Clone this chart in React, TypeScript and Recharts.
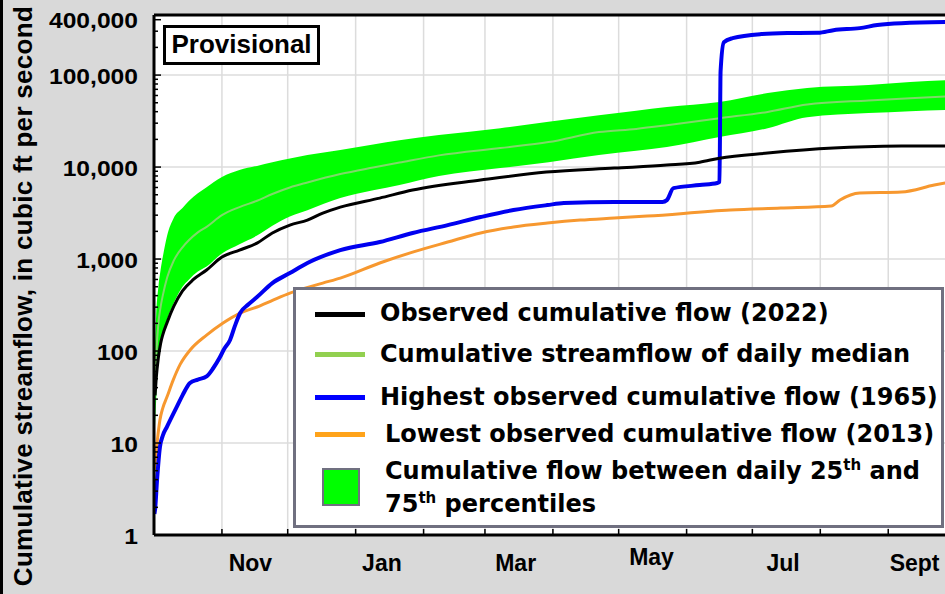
import { ComposedChart, Area, Line, XAxis, YAxis, CartesianGrid, ReferenceLine, Legend } from 'recharts';

// water-year day (0 = Oct 1)
const monthStarts = [31, 61, 92, 123, 151, 182, 212, 243, 273, 304, 335];
const monthLabels = ['Nov', 'Jan', 'Mar', 'May', 'Jul', 'Sept'];
const monthLabelDays = [44, 104, 165, 227, 287, 347];

const yLabelTicks = [1, 10, 100, 1000, 10000, 100000, 400000];
const yMinorTicks = [
  2, 3, 4, 5, 6, 7, 8, 9,
  20, 30, 40, 50, 60, 70, 80, 90,
  200, 300, 400, 500, 600, 700, 800, 900,
  2000, 3000, 4000, 5000, 6000, 7000, 8000, 9000,
  20000, 30000, 40000, 50000, 60000, 70000, 80000, 90000,
  200000, 300000,
];
const gridValues = [10, 100, 1000, 10000, 100000];

// 25th-75th percentile band and median
const bandDays = [0.5, 1, 2, 3, 4, 6, 9, 13, 16, 20, 24, 31, 39, 47, 54, 62, 70, 85, 100, 112, 130, 158, 180, 203, 220, 234, 258, 280, 298, 326, 345, 365];
const band25 = [15, 30, 80, 120, 150, 220, 330, 500, 600, 730, 830, 1150, 1450, 1800, 2300, 2900, 3400, 4600, 5600, 6400, 8000, 9750, 11300, 13500, 15000, 16500, 21200, 26500, 34900, 38600, 40500, 42000];
const band75 = [120, 250, 500, 760, 1050, 1800, 2800, 3600, 4300, 5200, 6050, 7800, 9300, 10300, 11300, 12400, 13500, 15300, 17600, 19600, 22300, 26500, 31000, 36700, 41000, 44900, 50900, 63700, 72300, 77800, 84000, 89000];
const bandMedian = [42, 87, 200, 300, 400, 630, 960, 1340, 1610, 1950, 2240, 3000, 3670, 4300, 5100, 6000, 6800, 8400, 9900, 11200, 13400, 16100, 18700, 24000, 26000, 28500, 34000, 39800, 48000, 53000, 56000, 59000];

// observed 2022
const obsDays = [0.5, 1, 2, 3, 4, 6, 9, 13, 18, 24, 31, 39, 47, 54, 62, 70, 77, 85, 103, 118, 149, 179, 210, 234, 249, 258, 280, 310, 341, 365];
const obsFlow = [33, 50, 85, 120, 150, 205, 305, 450, 600, 760, 1050, 1250, 1490, 1920, 2340, 2650, 3160, 3670, 4600, 5620, 7220, 8830, 9750, 10500, 11300, 12500, 14200, 16100, 16900, 17000];

// highest 1965
const maxDays = [0.2, 0.5, 1.4, 2.7, 4, 5.9, 8, 10.5, 13, 16.4, 20, 24, 27, 30, 32, 34.7, 37, 39.3, 43, 47, 54, 62, 70, 85, 103, 118, 134, 149, 164, 179.5, 187, 210, 232, 234, 237, 249, 257, 258, 258.5, 260, 264, 277, 289, 303, 310, 322, 330, 341, 365];
const maxFlow = [1.7, 1.9, 4, 9, 12, 15, 19, 25, 33, 45, 49, 53, 65, 85, 105, 132, 190, 259, 320, 386, 548, 705, 906, 1250, 1530, 1920, 2340, 2860, 3410, 3860, 4060, 4170, 4170, 4370, 5900, 6370, 6700, 6900, 110000, 228000, 252000, 279000, 286000, 288000, 308000, 324000, 350000, 367000, 378000];

// lowest 2013
const minDays = [0, 0.5, 1.4, 2.7, 4, 5.9, 8.7, 12, 16.4, 24, 31.5, 39.3, 47, 54.3, 62, 77, 85, 103, 118, 134, 149, 164, 179.5, 194.5, 210, 225, 263, 286, 309, 313, 322, 341, 356, 365];
const minFlow = [5, 6, 10, 17.8, 24, 31.6, 48, 72, 102, 149, 202, 259, 301, 358, 427, 548, 621, 906, 1190, 1530, 1920, 2230, 2460, 2650, 2790, 2930, 3410, 3580, 3770, 4380, 5210, 5350, 6370, 7000];

const legendItems = [
  { label: 'Observed cumulative flow (2022)', color: '#000000' },
  { label: 'Cumulative streamflow of daily median', color: '#92d050' },
  { label: 'Highest observed cumulative flow (1965)', color: '#0000ff' },
  { label: 'Lowest observed cumulative flow (2013)', color: '#ffa31a' },
];

const bandData = bandDays.map((day, i) => ({ day, range: [band25[i], band75[i]], median: bandMedian[i] }));
const obsData = obsDays.map((day, i) => ({ day, flow: obsFlow[i] }));
const maxData = maxDays.map((day, i) => ({ day, flow: maxFlow[i] }));
const minData = minDays.map((day, i) => ({ day, flow: minFlow[i] }));

const SANS = '"Liberation Sans", Arial, Helvetica, sans-serif';
const LEG = '"DejaVu Sans", Verdana, sans-serif';

function YTick(props: any) {
  const { x, y, payload } = props;
  const v = payload.value;
  const axisX = x + 16;
  const labelled = yLabelTicks.includes(v);
  return (
    <g>
      <line x1={axisX} x2={axisX + (labelled ? 7 : 4)} y1={y} y2={y} stroke="#000" strokeWidth={1.5} />
      {labelled && (
        <text
          transform={`translate(${x},${y + 1}) scale(1.12,1)`}
          textAnchor="end"
          dominantBaseline="central"
          fontFamily={SANS}
          fontWeight="bold"
          fontSize={22}
          fill="#000"
        >
          {v.toLocaleString('en-US')}
        </text>
      )}
    </g>
  );
}

function XTick(props: any) {
  const { x, y, payload } = props;
  const i = monthLabelDays.indexOf(payload.value);
  if (i >= 0) {
    const lift = monthLabels[i] === 'May' ? 6 : 0;
    return (
      <text x={x} y={y + 28 - lift} textAnchor="middle" dominantBaseline="central" fontFamily={SANS} fontWeight="bold" fontSize={23} fill="#000">
        {monthLabels[i]}
      </text>
    );
  }
  return <line x1={x} x2={x} y1={y} y2={y - 6} stroke="#000" strokeWidth={1.5} />;
}

function LegendBox() {
  const rows = [24, 65, 108, 145];
  return (
    <div style={{ position: 'relative', width: 651, height: 241, boxSizing: 'border-box', border: '3px solid #707080', background: '#fff', fontFamily: LEG, fontWeight: 'bold', fontSize: 24, color: '#000' }}>
      {legendItems.map((it, i) => (
        <div key={it.label}>
          <div style={{ position: 'absolute', left: 19, top: rows[i] - 3 + (i === 0 ? 1 : 0), width: 50, height: 5, background: it.color }} />
          <div style={{ position: 'absolute', left: i === 3 ? 89 : 84, top: rows[i] - 16, lineHeight: '30px', whiteSpace: 'nowrap' }}>{it.label}</div>
        </div>
      ))}
      <div style={{ position: 'absolute', left: 26, top: 178, width: 38, height: 38, boxSizing: 'border-box', border: '2px solid #707080', background: '#00ff00' }} />
      <div style={{ position: 'absolute', left: 89, top: 165, lineHeight: '33px', whiteSpace: 'nowrap' }}>
        Cumulative flow between daily 25<sup style={{ fontSize: 15, verticalAlign: 9, lineHeight: 0 }}>th</sup> and
        <br />
        75<sup style={{ fontSize: 15, verticalAlign: 9, lineHeight: 0 }}>th</sup> percentiles
      </div>
    </div>
  );
}

export default function App() {
  return (
    <div style={{ position: 'fixed', left: 0, top: 0, width: 945, height: 594, overflow: 'hidden', background: '#d9d9d9' }}>
      <ComposedChart width={975} height={594} margin={{ top: 15, right: 21, bottom: 0, left: 0 }}>
        <CartesianGrid fill="#ffffff" stroke="#dcdcdc" strokeWidth={1.5} horizontalValues={gridValues} verticalValues={monthStarts} />
        <XAxis
          type="number"
          dataKey="day"
          domain={[0, 365]}
          allowDataOverflow
          ticks={[...monthStarts, ...monthLabelDays]}
          interval={0}
          tickSize={0}
          tickMargin={0}
          tickLine={false}
          height={59}
          axisLine={{ stroke: '#000', strokeWidth: 3 }}
          tick={<XTick />}
        />
        <YAxis
          type="number"
          scale="log"
          domain={[1, 450000]}
          allowDataOverflow
          ticks={[...yLabelTicks, ...yMinorTicks]}
          interval={0}
          tickSize={0}
          tickMargin={16}
          tickLine={false}
          width={154}
          axisLine={{ stroke: '#000', strokeWidth: 3 }}
          tick={<YTick />}
        />
        <ReferenceLine y={450000} stroke="#000" strokeWidth={3} />
        <Area data={bandData} dataKey="range" type="monotone" stroke="none" fill="#00ff00" fillOpacity={1} isAnimationActive={false} />
        <Line data={bandData} dataKey="median" type="monotone" stroke="#7fd86a" strokeWidth={2} dot={false} isAnimationActive={false} />
        <Line data={minData} dataKey="flow" type="monotone" stroke="#f7982f" strokeWidth={3} dot={false} isAnimationActive={false} />
        <Line data={maxData} dataKey="flow" type="monotone" stroke="#0000f0" strokeWidth={4} dot={false} isAnimationActive={false} />
        <Line data={obsData} dataKey="flow" type="monotone" stroke="#000000" strokeWidth={3} dot={false} isAnimationActive={false} />
        <Legend
          layout="horizontal"
          verticalAlign="middle"
          align="center"
          content={() => <LegendBox />}
          wrapperStyle={{ left: 293, top: 287, width: 651, height: 241 }}
        />
      </ComposedChart>
      <div style={{ position: 'absolute', left: 0, top: 0, width: 3, height: 594, background: '#000' }} />
      <div
        style={{
          position: 'absolute', left: 23 - 300, top: 296 - 15, width: 600, height: 30, lineHeight: '30px',
          textAlign: 'center', transform: 'rotate(-90deg)', fontFamily: SANS, fontWeight: 'bold', fontSize: 26,
          letterSpacing: 0.3, whiteSpace: 'nowrap', color: '#000',
        }}
      >
        Cumulative streamflow, in cubic ft per second
      </div>
      <div
        style={{
          position: 'absolute', left: 163, top: 25, width: 157, height: 40, boxSizing: 'border-box', border: '3px solid #000',
          background: '#fff', fontFamily: SANS, fontWeight: 'bold', fontSize: 26, lineHeight: '33px', textAlign: 'center', color: '#000',
        }}
      >
        Provisional
      </div>
    </div>
  );
}
